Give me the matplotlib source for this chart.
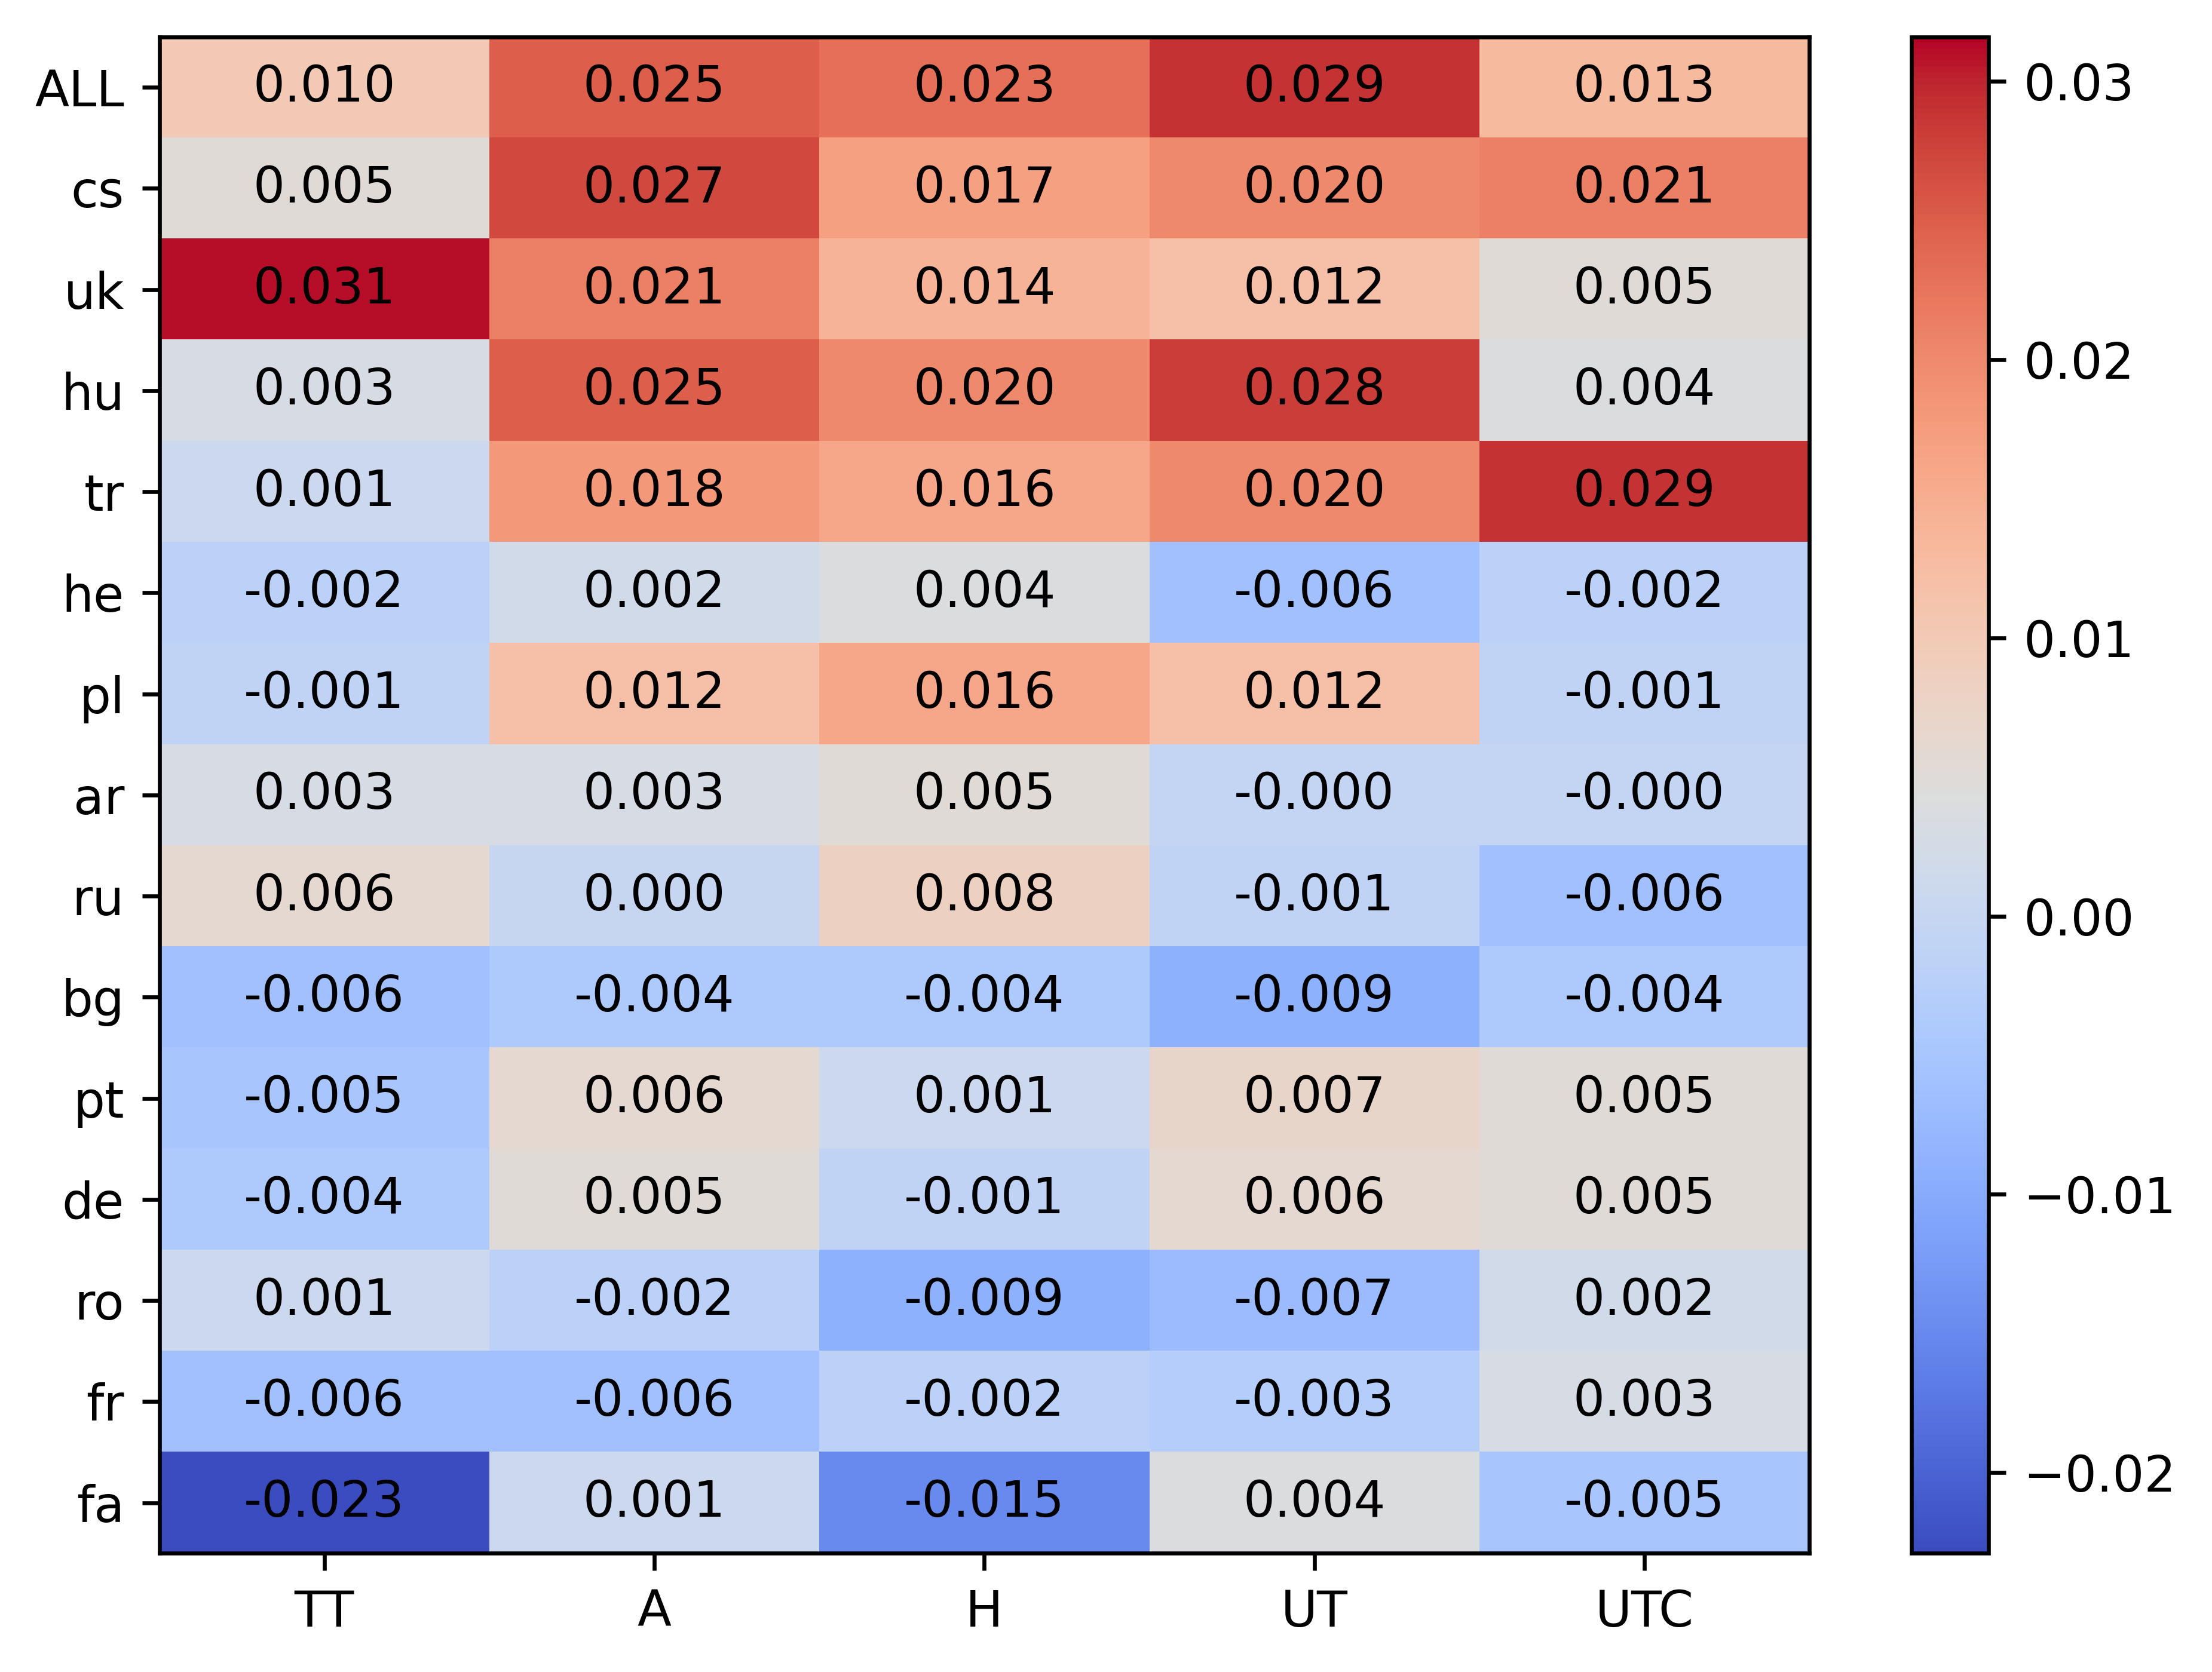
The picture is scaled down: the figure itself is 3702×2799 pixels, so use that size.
import numpy as np
import matplotlib
matplotlib.use("Agg")
import matplotlib.pyplot as plt

rows = ["ALL", "cs", "uk", "hu", "tr", "he", "pl", "ar", "ru", "bg", "pt", "de", "ro", "fr", "fa"]
cols = ["TT", "A", "H", "UT", "UTC"]

tt = [0.010, 0.005, 0.031, 0.003, 0.001, -0.002, -0.001, 0.003, 0.006, -0.006, -0.005, -0.004, 0.001, -0.006, -0.023]
a = [0.025, 0.027, 0.021, 0.025, 0.018, 0.002, 0.012, 0.003, 0.0002, -0.004, 0.006, 0.005, -0.002, -0.006, 0.001]
h = [0.023, 0.017, 0.014, 0.020, 0.016, 0.004, 0.016, 0.005, 0.008, -0.004, 0.001, -0.001, -0.009, -0.002, -0.015]
ut = [0.029, 0.020, 0.012, 0.028, 0.020, -0.006, 0.012, -0.0004, -0.001, -0.009, 0.007, 0.006, -0.007, -0.003, 0.004]
utc = [0.013, 0.021, 0.005, 0.004, 0.029, -0.002, -0.001, -0.0004, -0.006, -0.004, 0.005, 0.005, 0.002, 0.003, -0.005]

data = np.array([tt, a, h, ut, utc]).T

fig = plt.figure(figsize=(6.17, 4.665))
ax = fig.add_axes([0.072, 0.071, 0.746, 0.907])
cax = fig.add_axes([0.864, 0.071, 0.035, 0.907])

im = ax.imshow(data, cmap="coolwarm", aspect="auto", vmin=-0.0229, vmax=0.0316)
for i in range(data.shape[0]):
    for j in range(data.shape[1]):
        ax.text(j, i, f"{data[i, j]:.3f}", ha="center", va="center", color="black")

ax.set_xticks(range(len(cols)))
ax.set_xticklabels(cols)
ax.set_yticks(range(len(rows)))
ax.set_yticklabels(rows)

fig.colorbar(im, cax=cax, ticks=[-0.02, -0.01, 0.0, 0.01, 0.02, 0.03])

fig.savefig("out.png", dpi=600)
